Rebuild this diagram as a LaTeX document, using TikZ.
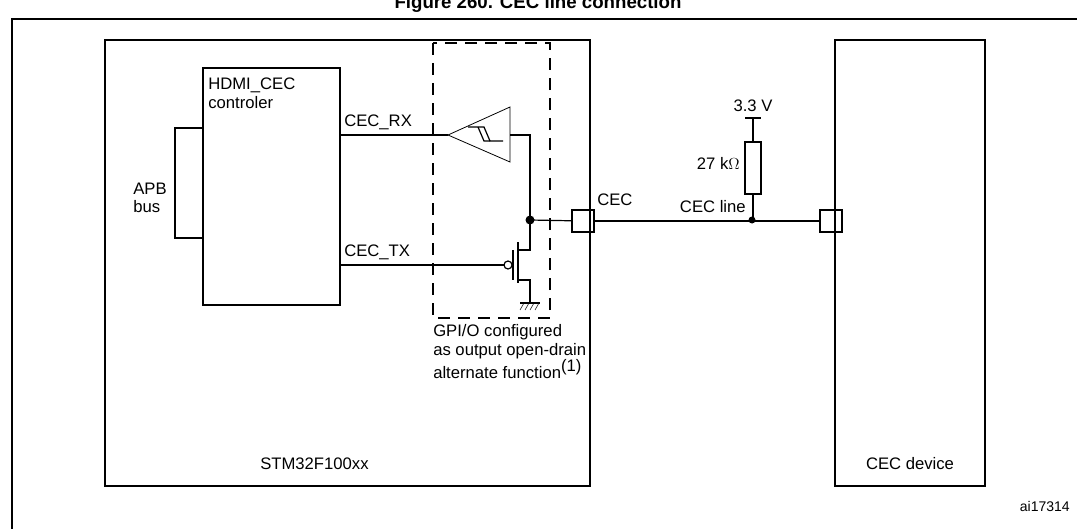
\documentclass[tikz,border=0pt]{standalone}
\usepackage{fontspec}
\setmainfont{Liberation Sans}
\begin{document}
\begin{tikzpicture}[x=0.75pt,y=-0.75pt,
  lbl/.style={inner sep=0pt,font=\fontsize{12.5}{14}\selectfont},
  box/.style={draw,line width=0.9pt},
  w/.style={line width=0.9pt}]
\useasboundingbox (0,0) rectangle (1077,528);
\node[font=\bfseries\fontsize{14}{16}\selectfont,inner sep=0pt] (title) at (538,4) {Figure 260. CEC line connection};
\draw[line width=1.3pt] (12,535) |- (1085,19);
\draw[box] (105,40) rectangle (590,486);
\draw[box] (835,40) rectangle (985,486);
\node[box,minimum width=137pt*0.75,minimum height=237pt*0.75,inner sep=0pt] (hdmi) at (271.5,186.5) {};
\draw[w] (203,128) -| (175,238) -- (203,238);
\node[lbl,align=left,anchor=west] (apb) at (133,198) {APB\\bus};
\node[lbl,align=left,anchor=north west] (htxt) at (208,78) {HDMI\_CEC\\controler};
\draw[line width=1.1pt,dash pattern=on 9pt off 6pt] (433,43) rectangle (550,318);
% RX
\coordinate (tip) at (448,135);
\draw[w] (hdmi.east |- tip) -- (tip);
\draw[line width=0.6pt] (tip) -- (510,107) -- (510,162) -- cycle;
\draw[w] (468,127) -- (484,127) -- (490,141) -- (503,141);
\draw[w] (478,127) -- (484,141) -- (490,141);
\node[lbl,anchor=south west] (rx) at (344,130) {CEC\_RX};
\coordinate (dot) at (530,220);
\draw[w] (510,135) -| (dot);
\fill (dot) circle (4.5);
\fill (752,220) circle (3.5);
% TX
\node[lbl,anchor=south west] (tx) at (344,260) {CEC\_TX};
\draw[w] (hdmi.east |- 0,265) -- (504,265);
\draw[w] (508,265) circle (4);
\draw[w] (513,250) -- (513,280);
\draw[w] (518,242) -- (518,283);
\draw[w] (dot) -- (530,250) -- (518,250);
\draw[w] (518,280) -- (530,280) -- (530,303);
\draw[w] (520,303) -- (540,303);
\foreach \i in {0,5,10,15} \draw (520+\i,310) -- (524+\i,303);
% pads
\node[box,minimum size=22pt*0.75,inner sep=0pt] (p1) at (583,221) {};
\node[box,minimum size=22pt*0.75,inner sep=0pt] (p2) at (831,221) {};
\draw[w] (dot) -- (p1);
\draw[w] (p1) -- (p2);
\node[lbl,anchor=south west] (cec) at (597,206) {CEC};
\node[lbl,anchor=south east] (cecl) at (746,213) {CEC line};
% resistor
\node[box,minimum width=16pt*0.75,minimum height=52pt*0.75,inner sep=0pt] (r) at (753,168) {};
\draw[w] (745,118) -- (761,118);
\draw[w] (753,118) -- (r.north);
\draw[w] (r.south) -- (753,220);
\node[lbl,anchor=south] (v) at (753,112) {3.3 V};
\node[lbl,anchor=east] (rk) at (740,163) {27 k$\Omega$};
% texts
\node[lbl,align=left,anchor=north west] (gpio) at (433,324) {GPI/O configured\\as output open-drain\\alternate function\raisebox{0.8ex}{(1)}};
\node[lbl,anchor=south west] (stm) at (260,470) {STM32F100xx};
\node[lbl,anchor=south] (dev) at (910,470) {CEC device};
\node[lbl,anchor=south east,font=\fontsize{10.5}{12}\selectfont] (ai) at (1070,512) {ai17314};
\end{tikzpicture}
\end{document}
